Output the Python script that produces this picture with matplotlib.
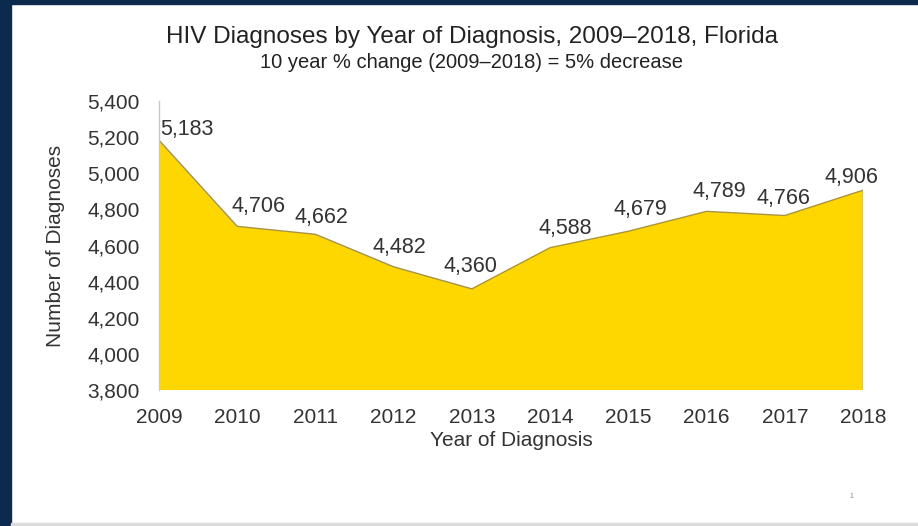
import matplotlib.pyplot as plt
from matplotlib.patches import Rectangle
from matplotlib.ticker import FuncFormatter

plt.rcParams['font.family'] = ['Liberation Sans', 'DejaVu Sans']

# data
years = [2009, 2010, 2011, 2012, 2013, 2014, 2015, 2016, 2017, 2018]
diagnoses = [5183, 4706, 4662, 4482, 4360, 4588, 4679, 4789, 4766, 4906]
# label offsets (points) relative to each point
label_dx = [1, 15, 4, 4, -1, 11, 9, 9, -1, -8]
label_dy = [8, 14, 12, 14, 16, 14, 16, 14, 12, 9]

W, H = 918, 526
fig = plt.figure(figsize=(W / 100, H / 100), dpi=100)
fig.patch.set_facecolor('white')

# slide frame
navy = '#0c2a4e'
fig.add_artist(Rectangle((0, 0), 11 / W, 1, transform=fig.transFigure, color=navy))
fig.add_artist(Rectangle((0, 1 - 4 / H), 1, 4 / H, transform=fig.transFigure, color=navy))
fig.add_artist(Rectangle((11 / W, 0), 1, 3 / H, transform=fig.transFigure, color='#dcdcdc'))

ax = fig.add_axes([159 / W, 1 - 390 / H, (863 - 159) / W, (390 - 101) / H])
ax.fill_between(years, diagnoses, 3800, facecolor='#ffd700', edgecolor='none')
ax.plot(years, diagnoses, color='#a89444', lw=1.0)
ax.plot([2018, 2018], [3800, diagnoses[-1]], color='#a89444', lw=1.0)

ax.set_xlim(2009, 2018)
ax.set_ylim(3800, 5400)
ax.set_xticks(years)
ax.set_yticks(range(3800, 5401, 200))
ax.yaxis.set_major_formatter(FuncFormatter(lambda v, p: f'{int(v):,}'))
ax.tick_params(length=0, labelsize=15, colors='#333333')
ax.tick_params(axis='y', pad=14)
ax.tick_params(axis='x', pad=13)
for s in ['top', 'right', 'bottom']:
    ax.spines[s].set_visible(False)
ax.spines['left'].set_color('#c8c8c8')
ax.spines['left'].set_linewidth(1.0)

for i, (x, y) in enumerate(zip(years, diagnoses)):
    ax.annotate(f'{y:,}', (x, y), xytext=(label_dx[i], label_dy[i]),
                textcoords='offset points', ha='left' if i == 0 else 'center',
                va='center', fontsize=15.5, color='#333333')

ax.set_ylabel('Number of Diagnoses', fontsize=15, color='#333333', labelpad=16)
ax.set_xlabel('Year of Diagnosis', fontsize=15, color='#333333', labelpad=3)

fig.text(472 / W, 1 - 37 / H, 'HIV Diagnoses by Year of Diagnosis, 2009\u20132018, Florida',
         ha='center', va='center', fontsize=17.5, color='#222222')
fig.text(472 / W, 1 - 62 / H, '10 year % change (2009\u20132018) = 5% decrease',
         ha='center', va='center', fontsize=14.5, color='#222222')
fig.text(851 / W, 1 - 497 / H, '1', ha='center', va='center', fontsize=5, color='#888888')

fig.savefig('out.png', dpi=100)
